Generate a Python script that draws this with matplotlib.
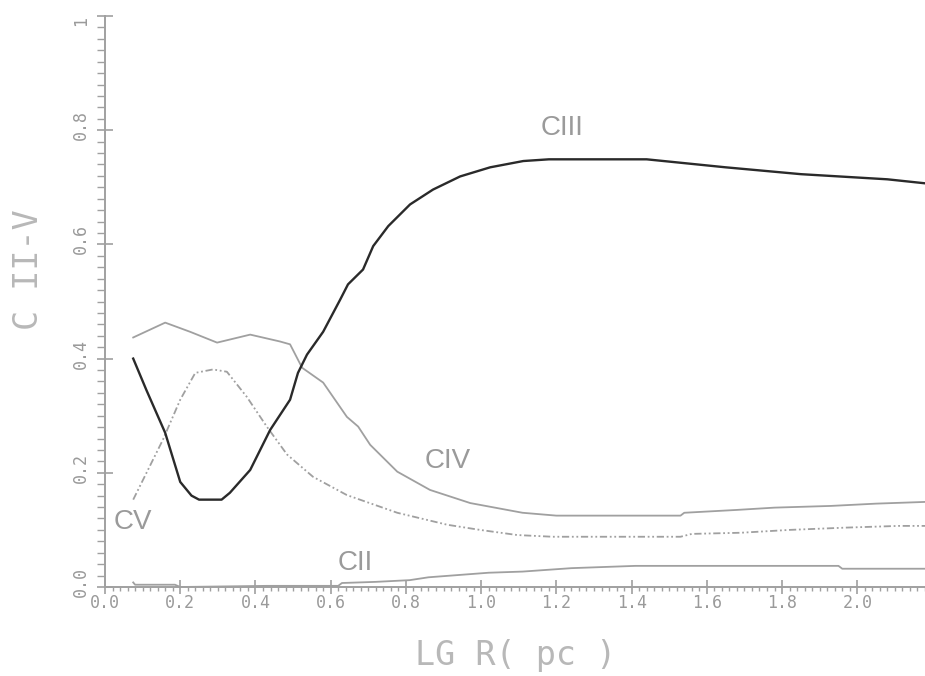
import numpy as np
import matplotlib
matplotlib.use("Agg")
import matplotlib.pyplot as plt
import matplotlib.transforms as mtransforms
from matplotlib.ticker import MultipleLocator

# ионизационные доли углерода в зависимости от lg R
x_c3 = [0.075, 0.11, 0.16, 0.20, 0.23, 0.25, 0.31, 0.332, 0.386, 0.439, 0.492, 0.513, 0.537, 0.58,
        0.625, 0.646, 0.686, 0.713, 0.753, 0.811, 0.872, 0.944, 1.024, 1.112, 1.18, 1.44, 1.65,
        1.85, 2.08, 2.18]
y_c3 = [0.40, 0.345, 0.27, 0.184, 0.16, 0.153, 0.153, 0.165, 0.205, 0.275, 0.328, 0.375, 0.407,
        0.447, 0.503, 0.53, 0.556, 0.597, 0.632, 0.670, 0.696, 0.719, 0.735, 0.746, 0.749, 0.749,
        0.735, 0.723, 0.714, 0.707]

x_c4 = [0.075, 0.16, 0.226, 0.298, 0.386, 0.465, 0.492, 0.524, 0.58, 0.643, 0.673, 0.705, 0.777,
        0.864, 0.971, 1.11, 1.20, 1.53, 1.54, 1.68, 1.78, 1.93, 2.05, 2.18]
y_c4 = [0.437, 0.463, 0.447, 0.428, 0.442, 0.430, 0.425, 0.384, 0.358, 0.298, 0.281, 0.249, 0.202,
        0.170, 0.147, 0.130, 0.125, 0.125, 0.130, 0.135, 0.139, 0.142, 0.146, 0.149]

x_c5 = [0.075, 0.154, 0.2, 0.24, 0.287, 0.324, 0.377, 0.43, 0.484, 0.553, 0.643, 0.777, 0.91,
        0.997, 1.096, 1.19, 1.53, 1.56, 1.69, 1.82, 1.97, 2.11, 2.18]
y_c5 = [0.153, 0.258, 0.328, 0.375, 0.381, 0.377, 0.333, 0.281, 0.232, 0.193, 0.161, 0.130, 0.109,
        0.100, 0.091, 0.088, 0.088, 0.093, 0.095, 0.100, 0.104, 0.107, 0.107]

x_c2 = [0.075, 0.08, 0.186, 0.2, 0.43, 0.62, 0.63, 0.72, 0.81, 0.86, 0.94, 1.02, 1.11, 1.24, 1.41,
        1.95, 1.96, 2.18]
y_c2 = [0.008, 0.004, 0.004, 0.0, 0.002, 0.002, 0.007, 0.009, 0.012, 0.017, 0.021, 0.025, 0.027,
        0.033, 0.037, 0.037, 0.032, 0.032]

x_ticks = [0.0, 0.2, 0.4, 0.6, 0.8, 1.0, 1.2, 1.4, 1.6, 1.8, 2.0]
y_ticks = [0.0, 0.2, 0.4, 0.6, 0.8, 1.0]
y_tick_labels = ["0.0", "0.2", "0.4", "0.6", "0.8", "1"]

# подписи кривых: текст, x, y
curve_names = ["CIII", "CIV", "CV", "CII"]
name_x = [1.215, 0.91, 0.074, 0.665]
name_y = [0.803, 0.221, 0.114, 0.042]

gray = "#a0a0a0"
txt_gray = "#9a9a9a"
mono = ["DejaVu Sans Mono"]

fig = plt.figure(figsize=(9.25, 6.76), dpi=100)
ax = fig.add_axes([105 / 925, 1 - 587 / 676, 820 / 925, 571 / 676])

ax.plot(x_c2, y_c2, color=gray, linewidth=1.3)
ax.plot(x_c5, y_c5, color=gray, linewidth=1.3, linestyle=(0, (4, 1.5, 1, 1.5, 1, 1.5)))
ax.plot(x_c4, y_c4, color=gray, linewidth=1.3)
ax.plot(x_c3, y_c3, color="#2a2a2a", linewidth=1.7)

for name, tx, ty in zip(curve_names, name_x, name_y):
    ax.text(tx, ty, name, ha="center", va="center", fontsize=20,
            family=["Liberation Sans", "DejaVu Sans"], color=txt_gray)

ax.set_xlim(0, 2.18)
ax.set_ylim(0, 1)
for s in ["top", "right"]:
    ax.spines[s].set_visible(False)
for s in ["left", "bottom"]:
    ax.spines[s].set_color(gray)
    ax.spines[s].set_linewidth(1.4)

ax.set_xticks(x_ticks)
ax.set_xticklabels(["%.1f" % v for v in x_ticks], family=mono, fontsize=12)
ax.set_yticks(y_ticks)
ax.set_yticklabels(y_tick_labels, family=mono, fontsize=12, rotation=90, va="bottom")
ax.xaxis.set_minor_locator(MultipleLocator(0.02))
ax.yaxis.set_minor_locator(MultipleLocator(0.02))

ax.tick_params(axis="x", which="major", direction="inout", length=9.5, width=1.2,
               color=gray, labelcolor=txt_gray, pad=0)
ax.tick_params(axis="x", which="minor", direction="out", length=3, width=1.0, color=gray)
ax.tick_params(axis="y", which="major", direction="inout", length=11.5, width=1.2,
               color=gray, labelcolor=txt_gray, pad=5)
ax.tick_params(axis="y", which="minor", direction="out", length=5.8, width=1.0, color=gray)

# метки по y чуть ниже риски, как в оригинале
shift = mtransforms.ScaledTranslation(0, -0.1, fig.dpi_scale_trans)
for lab in ax.get_yticklabels():
    lab.set_transform(lab.get_transform() + shift)

fig.text(29 / 925, 1 - 270 / 676, "C II-V", rotation=90, ha="center", va="center",
         family=mono, fontsize=24, color="#b8b8b8")
fig.text(516 / 925, 1 - 655 / 676, "LG R( pc )", ha="center", va="center",
         family=mono, fontsize=24, color="#b8b8b8")

fig.savefig("out.png", dpi=100)
